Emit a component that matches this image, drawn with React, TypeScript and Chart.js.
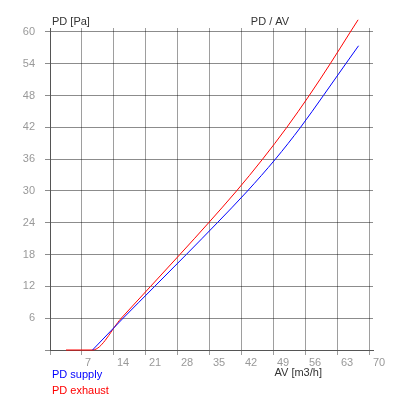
import React, { useEffect, useRef } from "react";
import { Chart, registerables } from "chart.js";

Chart.register(...registerables);

const xTickValues = [0, 7, 14, 21, 28, 35, 42, 49, 56, 63, 70];
const yTickValues = [0, 6, 12, 18, 24, 30, 36, 42, 48, 54, 60];

const supplyX = [9.3, 16.0, 22.9, 29.8, 36.6, 43.2, 49.3, 54.8, 59.8, 64.7, 67.5];
const supplyY = [0, 6, 12, 18, 24, 30, 36, 42, 48, 54, 57.4];

const exhaustX = [3.5, 9.3, 15.6, 22.0, 28.4, 34.7, 40.8, 46.5, 51.8, 56.7, 61.3, 65.7, 67.4];
const exhaustY = [0, 0, 6, 12, 18, 24, 30, 36, 42, 48, 54, 60, 62.3];

const seriesNames = ["PD supply", "PD exhaust"];
const seriesColors = ["#0000ff", "#ff0000"];
const chartTitle = "PD / AV";
const yTitle = "PD [Pa]";
const xTitle = "AV [m3/h]";

const FONT = "'Liberation Sans', Arial, sans-serif";

export default function App() {
  const ref = useRef<HTMLCanvasElement | null>(null);

  useEffect(() => {
    document.body.style.margin = "0";
    const canvas = ref.current;
    if (!canvas) return;

    const textPlugin = {
      id: "texts",
      afterDraw(chart: any) {
        const ctx = chart.ctx;
        const area = chart.chartArea;
        ctx.save();
        ctx.font = `11px ${FONT}`;
        ctx.textBaseline = "middle";
        ctx.fillStyle = "#333333";
        ctx.textAlign = "left";
        ctx.fillText(yTitle, area.left + 2, 22);
        ctx.textAlign = "center";
        ctx.fillText(chartTitle, chart.scales.x.getPixelForValue(49) - 4, 22);
        ctx.fillText(xTitle, chart.scales.x.getPixelForValue(54.3), 373);
        ctx.textAlign = "left";
        ctx.fillStyle = seriesColors[0];
        ctx.fillText(seriesNames[0], area.left + 2, 375);
        ctx.fillStyle = seriesColors[1];
        ctx.fillText(seriesNames[1], area.left + 2, 391);
        ctx.restore();
      },
    };

    const chart = new Chart(canvas, {
      type: "scatter",
      data: {
        datasets: [
          {
            label: seriesNames[0],
            data: supplyX.map((x, i) => ({ x, y: supplyY[i] })),
            borderColor: seriesColors[0],
            backgroundColor: seriesColors[0],
            borderWidth: 1,
            showLine: true,
            pointRadius: 0,
            cubicInterpolationMode: "monotone",
            clip: false as any,
          },
          {
            label: seriesNames[1],
            data: exhaustX.map((x, i) => ({ x, y: exhaustY[i] })),
            borderColor: seriesColors[1],
            backgroundColor: seriesColors[1],
            borderWidth: 1,
            showLine: true,
            pointRadius: 0,
            cubicInterpolationMode: "monotone",
            clip: false as any,
          },
        ],
      },
      options: {
        animation: false,
        responsive: false,
        devicePixelRatio: 1,
        layout: { padding: { top: 28, right: 27, left: 0, bottom: 0 } },
        plugins: {
          legend: { display: false },
          title: { display: false },
          tooltip: { enabled: false },
        },
        scales: {
          x: {
            type: "linear",
            min: 0,
            max: 70.66,
            afterBuildTicks: (s: any) => {
              s.ticks = xTickValues.map((v) => ({ value: v }));
            },
            afterFit: (s: any) => {
              s.height = 50;
            },
            grid: {
              color: "rgba(0,0,0,0.38)",
              lineWidth: 1,
              tickLength: 5,
              drawTicks: true,
            },
            border: { color: "#555555", width: 1 },
            ticks: {
              color: "#999999",
              font: { size: 11, family: FONT },
              align: "start",
              labelOffset: 3,
              padding: 1,
              maxRotation: 0,
              autoSkip: false,
              callback: (v: any) => (v === 0 ? "" : String(v)),
            },
          },
          y: {
            type: "linear",
            min: 0,
            max: 60.75,
            afterBuildTicks: (s: any) => {
              s.ticks = yTickValues.map((v) => ({ value: v }));
            },
            afterFit: (s: any) => {
              s.width = 50;
            },
            grid: {
              color: "rgba(0,0,0,0.45)",
              lineWidth: 1,
              tickLength: 5,
              drawTicks: true,
            },
            border: { color: "#555555", width: 1 },
            ticks: {
              color: "#999999",
              font: { size: 11, family: FONT },
              padding: 10,
              autoSkip: false,
              callback: (v: any) => (v === 0 ? "" : String(v)),
            },
          },
        },
      },
      plugins: [textPlugin],
    } as any);

    return () => chart.destroy();
  }, []);

  return (
    <div style={{ width: 400, height: 400, background: "#ffffff" }}>
      <canvas ref={ref} width={400} height={400} style={{ display: "block" }} />
    </div>
  );
}
